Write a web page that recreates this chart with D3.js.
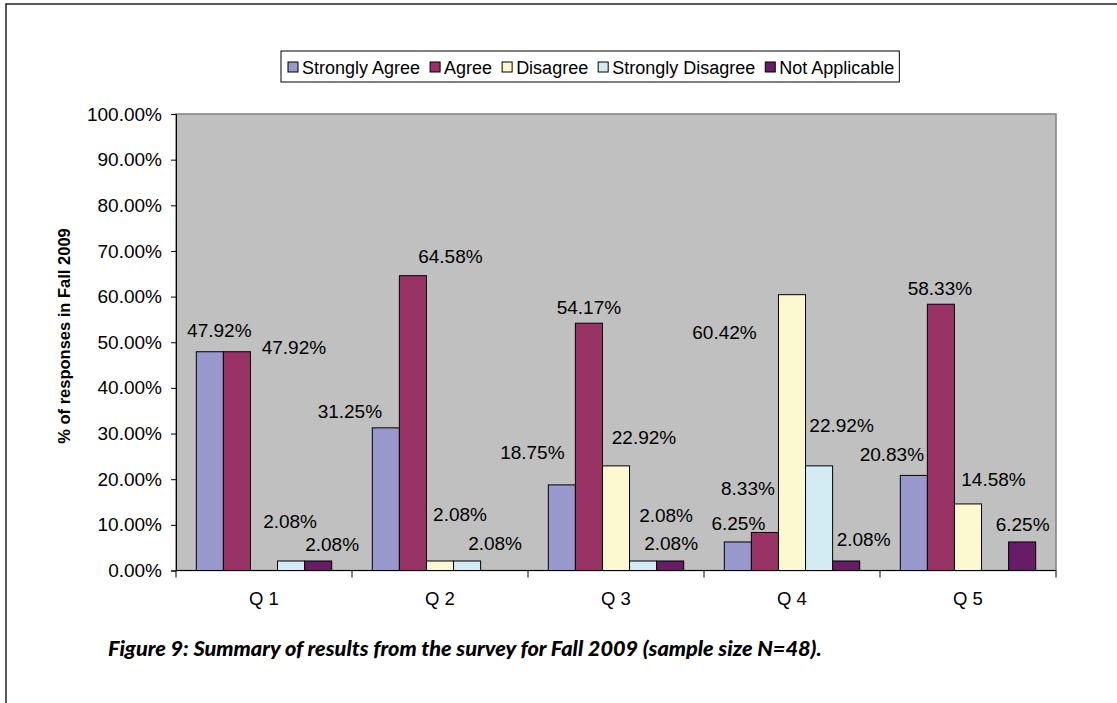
<!DOCTYPE html>
<html>
<head>
<meta charset="utf-8">
<script src="https://cdn.jsdelivr.net/npm/d3@7"></script>
<style>
  body { margin: 0; background: #fff; }
  svg { display: block; }
  text { font-family: Arial, "Liberation Sans", Helvetica, sans-serif; fill: #000; }
</style>
</head>
<body>
<div id="chart"></div>
<script>
var questions = ["Q 1", "Q 2", "Q 3", "Q 4", "Q 5"];
var series = ["Strongly Agree", "Agree", "Disagree", "Strongly Disagree", "Not Applicable"];
var stronglyAgree    = [47.92, 31.25, 18.75, 6.25, 20.83];
var agree            = [47.92, 64.58, 54.17, 8.33, 58.33];
var disagree         = [0, 2.08, 22.92, 60.42, 14.58];
var stronglyDisagree = [2.08, 2.08, 2.08, 22.92, 0];
var notApplicable    = [2.08, 0, 2.08, 2.08, 6.25];
var yTicks = [0, 10, 20, 30, 40, 50, 60, 70, 80, 90, 100];

var colors = ["#9898cc", "#993365", "#fcf9d0", "#d3ecf3", "#661c66"];
var FONT = "Arial, 'Liberation Sans', Helvetica, sans-serif";

// where excel put each data label, relative to bar centre / bar top
var labelNudge = [
  [[9.5, -22], [57, -5], null, [-1, -39.5], [14, -16.5]],
  [[-36, -17], [37.5, -19.5], [20, -47], [28, -18], null],
  [[-29.5, -32.5], [0, -16.5], [28, -28.5], [23, -46], [1, -17.5]],
  [[0.5, -18.5], [-17, -44.5], [-67.5, 37.5], [22.5, -41], [17.5, -21.5]],
  [[-22, -21], [-1, -16.5], [25.5, -25], null, [0.5, -18]]
];

var values = [stronglyAgree, agree, disagree, stronglyDisagree, notApplicable];
var data = questions.map(function(q, qi) {
  return {q: q, bars: series.map(function(s, si) {
    return {q: q, qi: qi, s: s, si: si, v: values[si][qi]};
  })};
});

var W = 1117, H = 703;
var plot = {left: 176, right: 1056, top: 114, bottom: 570.5};

var svg = d3.select("#chart").append("svg")
  .attr("width", W).attr("height", H);

// page frame
svg.append("rect")
  .attr("x", 6).attr("y", 4)
  .attr("width", W + 40).attr("height", H + 40)
  .attr("fill", "#fff").attr("stroke", "#000").attr("stroke-width", 1.3);

var x0 = d3.scaleBand().domain(questions).range([plot.left, plot.right]).padding(0);
var x1 = d3.scaleBand().domain(series).range([0, x0.bandwidth()])
  .paddingInner(0).paddingOuter(0.75);
var y = d3.scaleLinear().domain([0, 100]).range([plot.bottom, plot.top]);

// plot area
svg.append("rect")
  .attr("x", plot.left).attr("y", plot.top)
  .attr("width", plot.right - plot.left).attr("height", plot.bottom - plot.top)
  .attr("fill", "#c0c0c0").attr("stroke", "#808080").attr("stroke-width", 1.5);

// bars
var groups = svg.selectAll(".grp").data(data).enter().append("g")
  .attr("class", "grp")
  .attr("transform", function(d) { return "translate(" + x0(d.q) + ",0)"; });

groups.selectAll("rect").data(function(d) { return d.bars.filter(function(b) { return b.v > 0; }); })
  .enter().append("rect")
  .attr("x", function(d) { return x1(d.s); })
  .attr("y", function(d) { return y(d.v); })
  .attr("width", x1.bandwidth())
  .attr("height", function(d) { return y(0) - y(d.v); })
  .attr("fill", function(d) { return colors[d.si]; })
  .attr("stroke", "#000").attr("stroke-width", 1);

// data labels
groups.selectAll("text").data(function(d) { return d.bars.filter(function(b) { return b.v > 0; }); })
  .enter().append("text")
  .attr("x", function(d) { return x1(d.s) + x1.bandwidth() / 2 + labelNudge[d.qi][d.si][0]; })
  .attr("y", function(d) { return y(d.v) + labelNudge[d.qi][d.si][1]; })
  .attr("dy", "0.36em")
  .attr("text-anchor", "middle")
  .style("font-family", FONT)
  .style("font-size", "19px")
  .text(function(d) { return d.v.toFixed(2) + "%"; });

// y axis
var yAxis = svg.append("g")
  .attr("transform", "translate(" + plot.left + ",0)")
  .call(d3.axisLeft(y).tickValues(yTicks).tickSize(5).tickPadding(9)
    .tickFormat(function(d) { return d.toFixed(2) + "%"; }));
yAxis.select(".domain").attr("stroke", "#000");
yAxis.selectAll("text").style("font-size", "19px").style("font-family", FONT);

// x axis
var xAxis = svg.append("g")
  .attr("transform", "translate(0," + plot.bottom + ")")
  .call(d3.axisBottom(x0).tickSize(0).tickPadding(21));
xAxis.select(".domain").attr("stroke", "#000").attr("d", "M" + plot.left + ",0H" + plot.right);
xAxis.selectAll("text").style("font-size", "18.5px").style("font-family", FONT);

var edges = questions.map(function(q) { return x0(q); }).concat([plot.right]);
svg.append("g").selectAll("line").data(edges).enter().append("line")
  .attr("x1", function(d) { return d; }).attr("x2", function(d) { return d; })
  .attr("y1", plot.bottom).attr("y2", plot.bottom + 7)
  .attr("stroke", "#000");

// y axis title
svg.append("text")
  .attr("transform", "translate(70,336) rotate(-90)")
  .attr("text-anchor", "middle")
  .style("font-family", FONT)
  .style("font-size", "16.5px").style("font-weight", "bold")
  .text("% of responses in Fall 2009");

// legend
var legend = svg.append("g");
var legendBox = legend.append("rect")
  .attr("x", 281).attr("y", 51).attr("height", 31)
  .attr("fill", "#fff").attr("stroke", "#000").attr("stroke-width", 1);

var lx = 288;
series.forEach(function(s, i) {
  legend.append("rect")
    .attr("x", lx).attr("y", 62).attr("width", 10).attr("height", 10)
    .attr("fill", colors[i]).attr("stroke", "#000").attr("stroke-width", 1);
  var t = legend.append("text")
    .attr("x", lx + 14).attr("y", 73.5)
    .style("font-family", FONT)
    .style("font-size", "18px")
    .text(s);
  lx += 14 + t.node().getComputedTextLength() + 10;
});
legendBox.attr("width", lx - 281 - 5);

// caption
var cap = svg.append("text")
  .attr("x", 108).attr("y", 656)
  .style("font-family", "Lato, 'Open Sans', sans-serif")
  .style("font-weight", "900").style("font-style", "italic")
  .style("font-size", "22px")
  .text("Figure 9: Summary of results from the survey for Fall 2009 (sample size N=48).");
var cw = cap.node().getComputedTextLength();
cap.style("font-size", (22 * 714 / cw) + "px");
</script>
</body>
</html>
